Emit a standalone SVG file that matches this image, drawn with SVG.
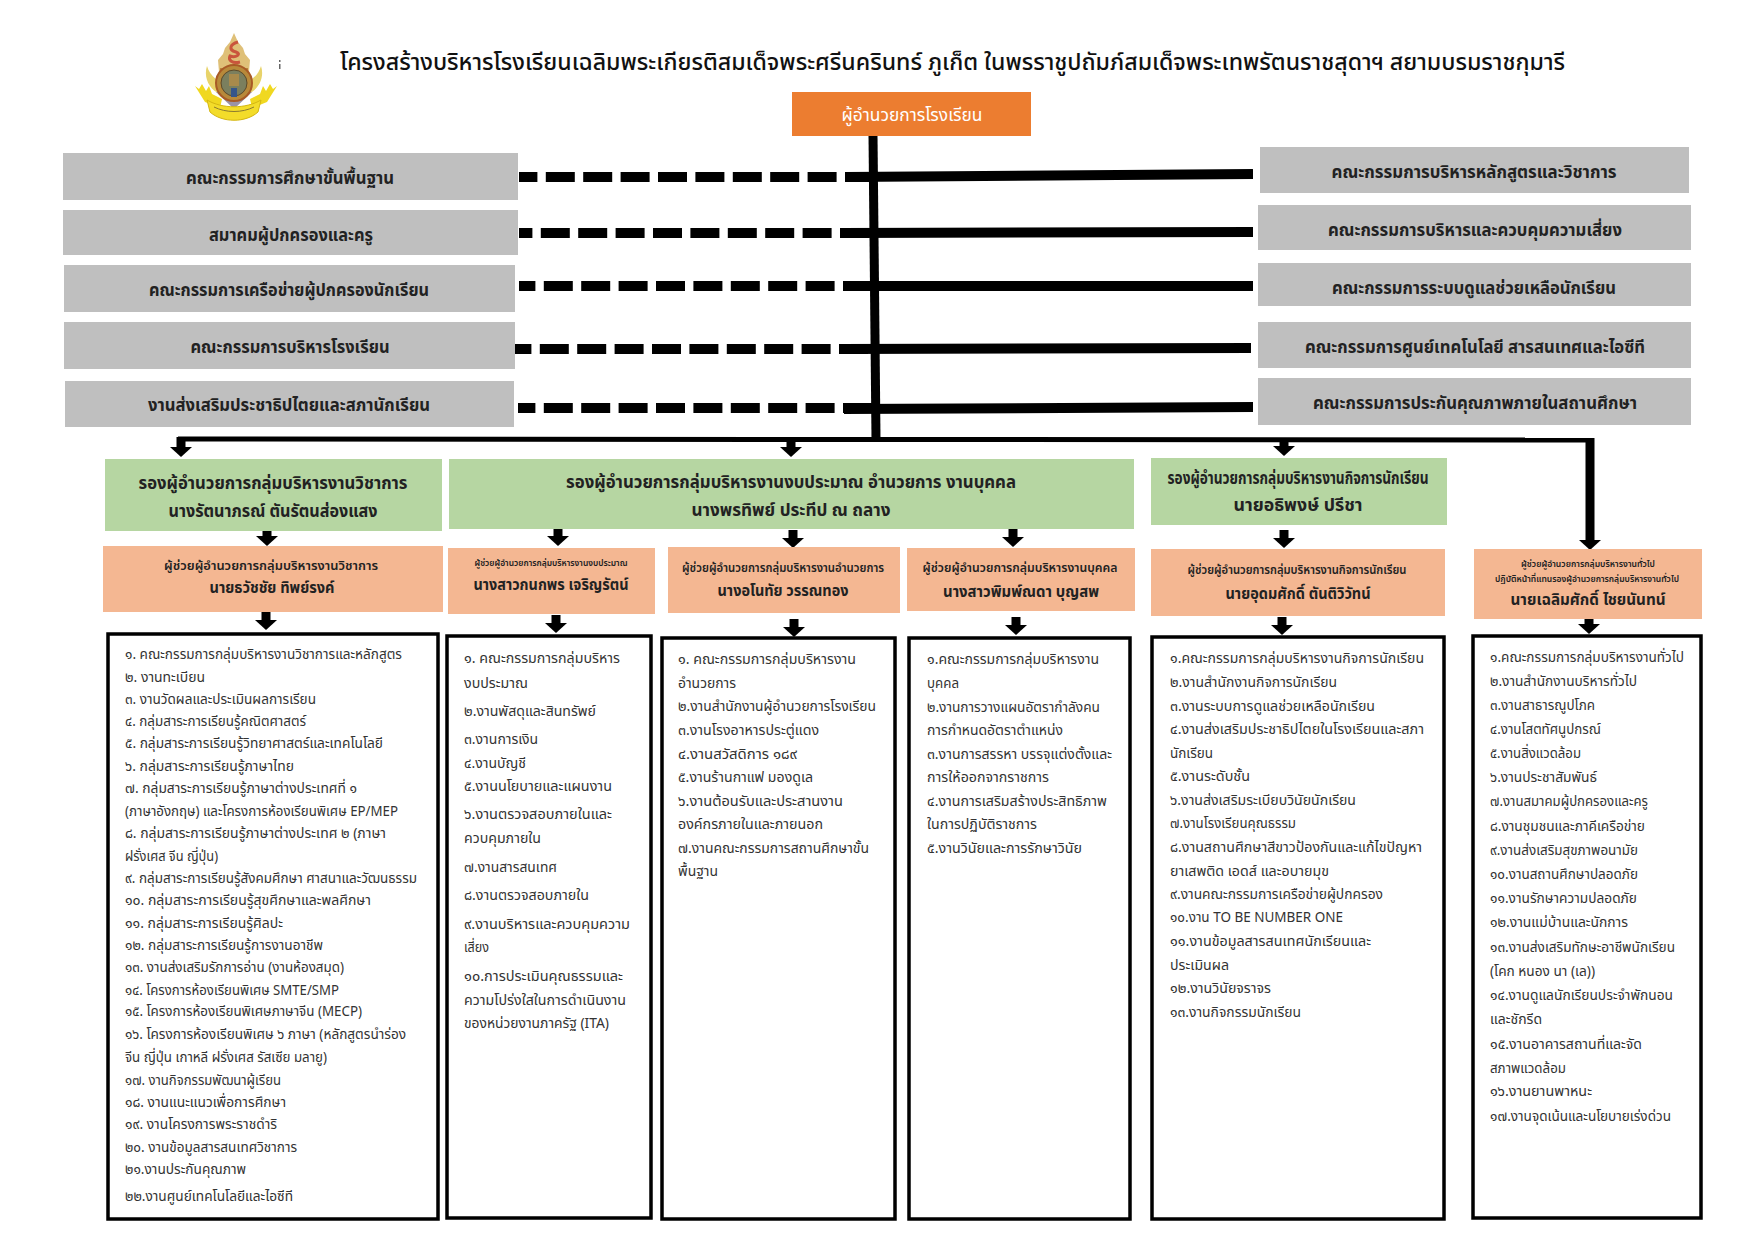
<svg xmlns="http://www.w3.org/2000/svg" width="1754" height="1241" viewBox="0 0 1754 1241">
<style>
text{font-family:"Noto Sans Thai","Noto Sans","DejaVu Sans",sans-serif;fill:#111}
.l{font-size:14px;fill:#333}
.c{text-anchor:middle}
.h{font-size:17px;font-weight:700;fill:#222}
.s{font-size:11px;fill:#222;font-weight:600}
.n{font-size:16px;font-weight:700;fill:#222}
.gray{fill:#bfbfbf}.green{fill:#b6d6a2}.or{fill:#f4b792}
.list{fill:#fff;stroke:#000;stroke-width:3.500}
.ar{stroke:#000;stroke-width:9;fill:none}
.bus{stroke:#000;fill:none}
.dash{stroke:#000;stroke-width:10;stroke-dasharray:29 8.4;fill:none}
.sol{stroke:#000;stroke-width:10;fill:none}
</style>
<defs><marker id="head" markerUnits="userSpaceOnUse" markerWidth="11" markerHeight="24" refX="0" refY="12" orient="auto"><path d="M0 1L10 12L0 23Z" fill="#000"/></marker></defs>
<rect width="1754" height="1241" fill="#fff"/>
<g id="logo">
<path d="M207 66C203 78 210 90 220 94H248C258 90 265 78 261 66C258 76 250 84 234 84C218 84 210 76 207 66Z" fill="#e8d36a"/>
<path d="M234 33L238 42L243 48L245 54L250 60L249 72H219L218 60L223 54L225 48L230 42Z" fill="#dfc078"/>
<path d="M238 42C230 44 228 50 236 52C242 54 236 58 230 56C228 60 232 64 240 62" fill="none" stroke="#c9553c" stroke-width="3"/>
<path d="M220 68H248V74H220Z" fill="#b8863c"/>
<path d="M216 92H252L234 109Z" fill="#9a93a8"/>
<circle cx="234" cy="83" r="18" fill="#b8893a" stroke="#a85a26" stroke-width="2"/>
<circle cx="234" cy="83" r="13" fill="#7b7f5e" stroke="#5c4a2a"/>
<path d="M229 74h10v12h-10z" fill="#a88a4c"/>
<path d="M231 88h6v9h-6z" fill="#35558a"/>
<path d="M195 86L199 89L202 84L206 91L209 86L212 94L222 99L220 108L205 102Z" fill="#f0d820"/>
<path d="M277 86L273 89L270 84L266 91L263 86L260 94L250 99L252 108L267 102Z" fill="#f0d820"/>
<path d="M207 100C222 109 246 109 261 100L258 112C246 123 222 123 210 112Z" fill="#f3dc2a" stroke="#d4b612"/>
<path d="M214 107C226 113 242 113 254 107" fill="none" stroke="#8a7a30" stroke-width="1"/>
<path d="M279 60h1.500v2h-1.500zM279 64h1.500v5h-1.500z" fill="#666"/>
</g>
<text id="title" x="340" y="70" font-size="23" textLength="1225" lengthAdjust="spacingAndGlyphs" style="font-size:23px;fill:#111;font-weight:500">โครงสร้างบริหารโรงเรียนเฉลิมพระเกียรติสมเด็จพระศรีนครินทร์ ภูเก็ต ในพรราชูปถัมภ์สมเด็จพระเทพรัตนราชสุดาฯ สยามบรมราชกุมารี</text>
<g id="connectors">
<path class="dash" d="M874 177H519"/>
<path class="dash" d="M869 233H519"/>
<path class="dash" d="M872 286H519"/>
<path class="dash" d="M868 349H515"/>
<path class="dash" d="M872 408H518"/>
<path class="sol" d="M846 177L1253 174"/>
<path class="sol" d="M842 233L1253 232"/>
<path class="sol" d="M843 286H1253"/>
<path class="sol" d="M841 349L1251 348"/>
<path class="sol" d="M844 409L1253 407"/>
<path class="bus" stroke-width="9" d="M873 135L876 438"/>
<path class="bus" stroke-width="5" d="M178 439L1590 440"/>
<line class="ar" x1="181" y1="437" x2="181" y2="447" marker-end="url(#head)"/>
<line class="ar" x1="791" y1="440" x2="791" y2="447" marker-end="url(#head)"/>
<line class="ar" x1="1284" y1="440" x2="1284" y2="446" marker-end="url(#head)"/>
<line class="ar" x1="1590" y1="438" x2="1590" y2="540" marker-end="url(#head)"/>
<line class="ar" x1="267" y1="528" x2="267" y2="536" marker-end="url(#head)"/>
<line class="ar" x1="558" y1="528" x2="558" y2="536" marker-end="url(#head)"/>
<line class="ar" x1="793" y1="530" x2="793" y2="538" marker-end="url(#head)"/>
<line class="ar" x1="1013" y1="529" x2="1013" y2="537" marker-end="url(#head)"/>
<line class="ar" x1="1284" y1="530" x2="1284" y2="538" marker-end="url(#head)"/>
<line class="ar" x1="266" y1="612" x2="266" y2="620" marker-end="url(#head)"/>
<line class="ar" x1="556" y1="615" x2="556" y2="623" marker-end="url(#head)"/>
<line class="ar" x1="794" y1="619" x2="794" y2="627" marker-end="url(#head)"/>
<line class="ar" x1="1016" y1="617" x2="1016" y2="625" marker-end="url(#head)"/>
<line class="ar" x1="1282" y1="617" x2="1282" y2="625" marker-end="url(#head)"/>
<line class="ar" x1="1589" y1="616" x2="1589" y2="624" marker-end="url(#head)"/>
</g>
<g id="director"><rect x="792" y="92" width="239" height="44" fill="#ec7d30"/><text x="912" y="121" textLength="141" lengthAdjust="spacingAndGlyphs" style="font-size:17px;fill:#fff" class="c">ผู้อำนวยการโรงเรียน</text></g>
<g id="left-1"><rect class="gray" x="63" y="153" width="455" height="47"/><text class="h c" x="290" y="184" textLength="208" lengthAdjust="spacingAndGlyphs">คณะกรรมการศึกษาขั้นพื้นฐาน</text></g>
<g id="left-2"><rect class="gray" x="63" y="210" width="455" height="45"/><text class="h c" x="291" y="241" textLength="164" lengthAdjust="spacingAndGlyphs">สมาคมผู้ปกครองและครู</text></g>
<g id="left-3"><rect class="gray" x="64" y="265" width="451" height="47"/><text class="h c" x="289" y="296" textLength="280" lengthAdjust="spacingAndGlyphs">คณะกรรมการเครือข่ายผู้ปกครองนักเรียน</text></g>
<g id="left-4"><rect class="gray" x="64" y="322" width="451" height="47"/><text class="h c" x="290" y="353" textLength="199" lengthAdjust="spacingAndGlyphs">คณะกรรมการบริหารโรงเรียน</text></g>
<g id="left-5"><rect class="gray" x="65" y="381" width="449" height="46"/><text class="h c" x="289" y="411" textLength="282" lengthAdjust="spacingAndGlyphs">งานส่งเสริมประชาธิปไตยและสภานักเรียน</text></g>
<g id="right-1"><rect class="gray" x="1260" y="147" width="429" height="46"/><text class="h c" x="1474" y="178" textLength="285" lengthAdjust="spacingAndGlyphs">คณะกรรมการบริหารหลักสูตรและวิชาการ</text></g>
<g id="right-2"><rect class="gray" x="1258" y="205" width="433" height="45"/><text class="h c" x="1475" y="236" textLength="294" lengthAdjust="spacingAndGlyphs">คณะกรรมการบริหารและควบคุมความเสี่ยง</text></g>
<g id="right-3"><rect class="gray" x="1258" y="263" width="433" height="43"/><text class="h c" x="1474" y="294" textLength="284" lengthAdjust="spacingAndGlyphs">คณะกรรมการระบบดูแลช่วยเหลือนักเรียน</text></g>
<g id="right-4"><rect class="gray" x="1258" y="322" width="433" height="46"/><text class="h c" x="1475" y="353" textLength="340" lengthAdjust="spacingAndGlyphs">คณะกรรมการศูนย์เทคโนโลยี สารสนเทศและไอซีที</text></g>
<g id="right-5"><rect class="gray" x="1258" y="378" width="433" height="47"/><text class="h c" x="1475" y="409" textLength="324" lengthAdjust="spacingAndGlyphs">คณะกรรมการประกันคุณภาพภายในสถานศึกษา</text></g>
<g id="deputy-academic"><rect class="green" x="105" y="459" width="337" height="72"/><text class="h c" x="273" y="489" textLength="269" lengthAdjust="spacingAndGlyphs">รองผู้อำนวยการกลุ่มบริหารงานวิชาการ</text><text class="h c" x="273" y="517" textLength="209" lengthAdjust="spacingAndGlyphs">นางรัตนาภรณ์ ตันรัตนส่องแสง</text></g>
<g id="deputy-budget"><rect class="green" x="449" y="459" width="685" height="70"/><text class="h c" x="791" y="488" textLength="450" lengthAdjust="spacingAndGlyphs">รองผู้อำนวยการกลุ่มบริหารงานงบประมาณ อำนวยการ งานบุคคล</text><text class="h c" x="791" y="516" textLength="199" lengthAdjust="spacingAndGlyphs">นางพรทิพย์ ประทีป ณ ถลาง</text></g>
<g id="deputy-student"><rect class="green" x="1151" y="458" width="296" height="67"/><text class="h c" x="1298" y="484" textLength="261" lengthAdjust="spacingAndGlyphs">รองผู้อำนวยการกลุ่มบริหารงานกิจการนักเรียน</text><text class="h c" x="1298" y="511" textLength="129" lengthAdjust="spacingAndGlyphs">นายอธิพงษ์  ปรีชา</text></g>
<g id="asst-academic"><rect class="or" x="103" y="546" width="340" height="66"/><text class="s c" x="271" y="570" style="font-size:13px" textLength="214" lengthAdjust="spacingAndGlyphs">ผู้ช่วยผู้อำนวยการกลุ่มบริหารงานวิชาการ</text><text class="n c" x="272" y="593" textLength="125" lengthAdjust="spacingAndGlyphs">นายธวัชชัย ทิพย์รงค์</text></g>
<g id="asst-budget"><rect class="or" x="448" y="548" width="207" height="66"/><text class="s c" x="551" y="566" style="font-size:9px" textLength="153" lengthAdjust="spacingAndGlyphs">ผู้ช่วยผู้อำนวยการกลุ่มบริหารงานงบประมาณ</text><text class="n c" x="551" y="590" textLength="155" lengthAdjust="spacingAndGlyphs">นางสาวกนกพร เจริญรัตน์</text></g>
<g id="asst-admin"><rect class="or" x="668" y="547" width="232" height="66"/><text class="s c" x="783" y="572" style="font-size:12px" textLength="202" lengthAdjust="spacingAndGlyphs">ผู้ช่วยผู้อำนวยการกลุ่มบริหารงานอำนวยการ</text><text class="n c" x="783" y="596" textLength="131" lengthAdjust="spacingAndGlyphs">นางอโนทัย วรรณทอง</text></g>
<g id="asst-personnel"><rect class="or" x="907" y="548" width="228" height="63"/><text class="s c" x="1020" y="572" style="font-size:12px" textLength="195" lengthAdjust="spacingAndGlyphs">ผู้ช่วยผู้อำนวยการกลุ่มบริหารงานบุคคล</text><text class="n c" x="1021" y="597" textLength="156" lengthAdjust="spacingAndGlyphs">นางสาวพิมพ์ณดา  บุญสพ</text></g>
<g id="asst-student"><rect class="or" x="1151" y="549" width="294" height="67"/><text class="s c" x="1297" y="574" style="font-size:12px" textLength="219" lengthAdjust="spacingAndGlyphs">ผู้ช่วยผู้อำนวยการกลุ่มบริหารงานกิจการนักเรียน</text><text class="n c" x="1298" y="599" textLength="145" lengthAdjust="spacingAndGlyphs">นายอุดมศักดิ์ ตันติวิวัทน์</text></g>
<g id="asst-general"><rect class="or" x="1474" y="549" width="228" height="70"/><text class="s c" x="1588" y="567" style="font-size:9px" textLength="134" lengthAdjust="spacingAndGlyphs">ผู้ช่วยผู้อำนวยการกลุ่มบริหารงานทั่วไป</text><text class="s c" x="1587" y="582" style="font-size:9px" textLength="184" lengthAdjust="spacingAndGlyphs">ปฏิบัติหน้าที่แทนรองผู้อำนวยการกลุ่มบริหารงานทั่วไป</text><text class="n c" x="1588" y="605" textLength="155" lengthAdjust="spacingAndGlyphs">นายเฉลิมศักดิ์  ไชยนันทน์</text></g>
<g id="list-academic"><rect class="list" x="108" y="634" width="330" height="585"/>
<g transform="translate(0,-1)">
<text class="l" x="125" y="660" textLength="277" lengthAdjust="spacingAndGlyphs">๑. คณะกรรมการกลุ่มบริหารงานวิชาการและหลักสูตร</text>
<text class="l" x="125" y="683" textLength="80" lengthAdjust="spacingAndGlyphs">๒. งานทะเบียน</text>
<text class="l" x="125" y="705" textLength="191" lengthAdjust="spacingAndGlyphs">๓. งานวัดผลและประเมินผลการเรียน</text>
<text class="l" x="125" y="727" textLength="181" lengthAdjust="spacingAndGlyphs">๔. กลุ่มสาระการเรียนรู้คณิตศาสตร์</text>
<text class="l" x="125" y="749" textLength="258" lengthAdjust="spacingAndGlyphs">๕. กลุ่มสาระการเรียนรู้วิทยาศาสตร์และเทคโนโลยี</text>
<text class="l" x="125" y="772" textLength="169" lengthAdjust="spacingAndGlyphs">๖. กลุ่มสาระการเรียนรู้ภาษาไทย</text>
<text class="l" x="125" y="794" textLength="232" lengthAdjust="spacingAndGlyphs">๗. กลุ่มสาระการเรียนรู้ภาษาต่างประเทศที่ ๑</text>
<text class="l" x="125" y="817" textLength="273" lengthAdjust="spacingAndGlyphs">(ภาษาอังกฤษ) และโครงการห้องเรียนพิเศษ EP/MEP</text>
<text class="l" x="125" y="839" textLength="261" lengthAdjust="spacingAndGlyphs">๘. กลุ่มสาระการเรียนรู้ภาษาต่างประเทศ ๒ (ภาษา</text>
<text class="l" x="125" y="862" textLength="93" lengthAdjust="spacingAndGlyphs">ฝรั่งเศส จีน ญี่ปุ่น)</text>
<text class="l" x="125" y="884" textLength="292" lengthAdjust="spacingAndGlyphs">๙. กลุ่มสาระการเรียนรู้สังคมศึกษา ศาสนาและวัฒนธรรม</text>
<text class="l" x="125" y="906" textLength="246" lengthAdjust="spacingAndGlyphs">๑๐.  กลุ่มสาระการเรียนรู้สุขศึกษาและพลศึกษา</text>
<text class="l" x="125" y="929" textLength="158" lengthAdjust="spacingAndGlyphs">๑๑. กลุ่มสาระการเรียนรู้ศิลปะ</text>
<text class="l" x="125" y="951" textLength="198" lengthAdjust="spacingAndGlyphs">๑๒. กลุ่มสาระการเรียนรู้การงานอาชีพ</text>
<text class="l" x="125" y="973" textLength="219" lengthAdjust="spacingAndGlyphs">๑๓. งานส่งเสริมรักการอ่าน (งานห้องสมุด)</text>
<text class="l" x="125" y="996" textLength="214" lengthAdjust="spacingAndGlyphs">๑๔. โครงการห้องเรียนพิเศษ SMTE/SMP</text>
<text class="l" x="125" y="1017" textLength="237" lengthAdjust="spacingAndGlyphs">๑๕. โครงการห้องเรียนพิเศษภาษาจีน (MECP)</text>
<text class="l" x="125" y="1040" textLength="281" lengthAdjust="spacingAndGlyphs">๑๖. โครงการห้องเรียนพิเศษ ๖ ภาษา (หลักสูตรนำร่อง</text>
<text class="l" x="125" y="1063" textLength="202" lengthAdjust="spacingAndGlyphs">จีน ญี่ปุ่น เกาหลี ฝรั่งเศส รัสเซีย มลายู)</text>
<text class="l" x="125" y="1086" textLength="156" lengthAdjust="spacingAndGlyphs">๑๗. งานกิจกรรมพัฒนาผู้เรียน</text>
<text class="l" x="125" y="1108" textLength="161" lengthAdjust="spacingAndGlyphs">๑๘. งานแนะแนวเพื่อการศึกษา</text>
<text class="l" x="125" y="1130" textLength="152" lengthAdjust="spacingAndGlyphs">๑๙. งานโครงการพระราชดำริ</text>
<text class="l" x="125" y="1153" textLength="172" lengthAdjust="spacingAndGlyphs">๒๐. งานข้อมูลสารสนเทศวิชาการ</text>
<text class="l" x="125" y="1175" textLength="121" lengthAdjust="spacingAndGlyphs">๒๑.งานประกันคุณภาพ</text>
<text class="l" x="125" y="1202" textLength="168" lengthAdjust="spacingAndGlyphs">๒๒.งานศูนย์เทคโนโลยีและไอซีที</text>
</g></g>
<g id="list-budget"><rect class="list" x="447" y="636" width="204" height="582"/>
<text class="l" x="464" y="663" textLength="156" lengthAdjust="spacingAndGlyphs">๑. คณะกรรมการกลุ่มบริหาร</text>
<text class="l" x="464" y="688" textLength="64" lengthAdjust="spacingAndGlyphs">งบประมาณ</text>
<text class="l" x="464" y="716" textLength="132" lengthAdjust="spacingAndGlyphs">๒.งานพัสดุและสินทรัพย์</text>
<text class="l" x="464" y="744" textLength="74" lengthAdjust="spacingAndGlyphs">๓.งานการเงิน</text>
<text class="l" x="464" y="768" textLength="62" lengthAdjust="spacingAndGlyphs">๔.งานบัญชี</text>
<text class="l" x="464" y="791" textLength="148" lengthAdjust="spacingAndGlyphs">๕.งานนโยบายและแผนงาน</text>
<text class="l" x="464" y="819" textLength="148" lengthAdjust="spacingAndGlyphs">๖.งานตรวจสอบภายในและ</text>
<text class="l" x="464" y="843" textLength="77" lengthAdjust="spacingAndGlyphs">ควบคุมภายใน</text>
<text class="l" x="464" y="872" textLength="93" lengthAdjust="spacingAndGlyphs">๗.งานสารสนเทศ</text>
<text class="l" x="464" y="900" textLength="125" lengthAdjust="spacingAndGlyphs">๘.งานตรวจสอบภายใน</text>
<text class="l" x="464" y="929" textLength="166" lengthAdjust="spacingAndGlyphs">๙.งานบริหารและควบคุมความ</text>
<text class="l" x="464" y="952" textLength="25" lengthAdjust="spacingAndGlyphs">เสี่ยง</text>
<text class="l" x="464" y="981" textLength="159" lengthAdjust="spacingAndGlyphs">๑๐.การประเมินคุณธรรมและ</text>
<text class="l" x="464" y="1005" textLength="162" lengthAdjust="spacingAndGlyphs">ความโปร่งใสในการดำเนินงาน</text>
<text class="l" x="464" y="1028" textLength="145" lengthAdjust="spacingAndGlyphs">ของหน่วยงานภาครัฐ (ITA)</text>
</g>
<g id="list-admin"><rect class="list" x="662" y="638" width="233" height="581"/>
<text class="l" x="678" y="664" textLength="178" lengthAdjust="spacingAndGlyphs">๑. คณะกรรมการกลุ่มบริหารงาน</text>
<text class="l" x="678" y="688" textLength="58" lengthAdjust="spacingAndGlyphs">อำนวยการ</text>
<text class="l" x="678" y="711" textLength="198" lengthAdjust="spacingAndGlyphs">๒.งานสำนักงานผู้อำนวยการโรงเรียน</text>
<text class="l" x="678" y="735" textLength="141" lengthAdjust="spacingAndGlyphs">๓.งานโรงอาหารประตู่แดง</text>
<text class="l" x="678" y="759" textLength="119" lengthAdjust="spacingAndGlyphs">๔.งานสวัสดิการ ๑๘๙</text>
<text class="l" x="678" y="782" textLength="135" lengthAdjust="spacingAndGlyphs">๕.งานร้านกาแฟ มองดูเล</text>
<text class="l" x="678" y="806" textLength="165" lengthAdjust="spacingAndGlyphs">๖.งานต้อนรับและประสานงาน</text>
<text class="l" x="678" y="829" textLength="145" lengthAdjust="spacingAndGlyphs">องค์กรภายในและภายนอก</text>
<text class="l" x="678" y="853" textLength="191" lengthAdjust="spacingAndGlyphs">๗.งานคณะกรรมการสถานศึกษาขั้น</text>
<text class="l" x="678" y="876" textLength="40" lengthAdjust="spacingAndGlyphs">พื้นฐาน</text>
</g>
<g id="list-personnel"><rect class="list" x="909" y="638" width="221" height="581"/>
<text class="l" x="927" y="664" textLength="172" lengthAdjust="spacingAndGlyphs">๑.คณะกรรมการกลุ่มบริหารงาน</text>
<text class="l" x="927" y="688" textLength="32" lengthAdjust="spacingAndGlyphs">บุคคล</text>
<text class="l" x="927" y="712" textLength="173" lengthAdjust="spacingAndGlyphs">๒.งานการวางแผนอัตรากำลังคน</text>
<text class="l" x="927" y="735" textLength="136" lengthAdjust="spacingAndGlyphs">การกำหนดอัตราตำแหน่ง</text>
<text class="l" x="927" y="759" textLength="185" lengthAdjust="spacingAndGlyphs">๓.งานการสรรหา บรรจุแต่งตั้งและ</text>
<text class="l" x="927" y="782" textLength="122" lengthAdjust="spacingAndGlyphs">การให้ออกจากราชการ</text>
<text class="l" x="927" y="806" textLength="180" lengthAdjust="spacingAndGlyphs">๔.งานการเสริมสร้างประสิทธิภาพ</text>
<text class="l" x="927" y="829" textLength="110" lengthAdjust="spacingAndGlyphs">ในการปฏิบัติราชการ</text>
<text class="l" x="927" y="853" textLength="155" lengthAdjust="spacingAndGlyphs">๕.งานวินัยและการรักษาวินัย</text>
</g>
<g id="list-student"><rect class="list" x="1152" y="637" width="292" height="582"/>
<text class="l" x="1170" y="663" textLength="254" lengthAdjust="spacingAndGlyphs">๑.คณะกรรมการกลุ่มบริหารงานกิจการนักเรียน</text>
<text class="l" x="1170" y="687" textLength="167" lengthAdjust="spacingAndGlyphs">๒.งานสำนักงานกิจการนักเรียน</text>
<text class="l" x="1170" y="711" textLength="205" lengthAdjust="spacingAndGlyphs">๓.งานระบบการดูแลช่วยเหลือนักเรียน</text>
<text class="l" x="1170" y="734" textLength="254" lengthAdjust="spacingAndGlyphs">๔.งานส่งเสริมประชาธิปไตยในโรงเรียนและสภา</text>
<text class="l" x="1170" y="758" textLength="43" lengthAdjust="spacingAndGlyphs">นักเรียน</text>
<text class="l" x="1170" y="781" textLength="80" lengthAdjust="spacingAndGlyphs">๕.งานระดับชั้น</text>
<text class="l" x="1170" y="805" textLength="186" lengthAdjust="spacingAndGlyphs">๖.งานส่งเสริมระเบียบวินัยนักเรียน</text>
<text class="l" x="1170" y="828" textLength="126" lengthAdjust="spacingAndGlyphs">๗.งานโรงเรียนคุณธรรม</text>
<text class="l" x="1170" y="852" textLength="252" lengthAdjust="spacingAndGlyphs">๘.งานสถานศึกษาสีขาวป้องกันและแก้ไขปัญหา</text>
<text class="l" x="1170" y="876" textLength="159" lengthAdjust="spacingAndGlyphs">ยาเสพติด เอดส์ และอบายมุข</text>
<text class="l" x="1170" y="899" textLength="213" lengthAdjust="spacingAndGlyphs">๙.งานคณะกรรมการเครือข่ายผู้ปกครอง</text>
<text class="l" x="1170" y="922" textLength="173" lengthAdjust="spacingAndGlyphs">๑๐.งาน TO BE NUMBER ONE</text>
<text class="l" x="1170" y="946" textLength="201" lengthAdjust="spacingAndGlyphs">๑๑.งานข้อมูลสารสนเทศนักเรียนและ</text>
<text class="l" x="1170" y="970" textLength="59" lengthAdjust="spacingAndGlyphs">ประเมินผล</text>
<text class="l" x="1170" y="993" textLength="101" lengthAdjust="spacingAndGlyphs">๑๒.งานวินัยจราจร</text>
<text class="l" x="1170" y="1017" textLength="131" lengthAdjust="spacingAndGlyphs">๑๓.งานกิจกรรมนักเรียน</text>
</g>
<g id="list-general"><rect class="list" x="1473" y="636" width="228" height="582"/>
<g transform="translate(0,-1.5)">
<text class="l" x="1490" y="663" textLength="194" lengthAdjust="spacingAndGlyphs">๑.คณะกรรมการกลุ่มบริหารงานทั่วไป</text>
<text class="l" x="1490" y="687" textLength="147" lengthAdjust="spacingAndGlyphs">๒.งานสำนักงานบริหารทั่วไป</text>
<text class="l" x="1490" y="711" textLength="105" lengthAdjust="spacingAndGlyphs">๓.งานสาธารณูปโภค</text>
<text class="l" x="1490" y="735" textLength="111" lengthAdjust="spacingAndGlyphs">๔.งานโสตทัศนูปกรณ์</text>
<text class="l" x="1490" y="759" textLength="91" lengthAdjust="spacingAndGlyphs">๕.งานสิ่งแวดล้อม</text>
<text class="l" x="1490" y="783" textLength="107" lengthAdjust="spacingAndGlyphs">๖.งานประชาสัมพันธ์</text>
<text class="l" x="1490" y="807" textLength="158" lengthAdjust="spacingAndGlyphs">๗.งานสมาคมผู้ปกครองและครู</text>
<text class="l" x="1490" y="832" textLength="155" lengthAdjust="spacingAndGlyphs">๘.งานชุมชนและภาคีเครือข่าย</text>
<text class="l" x="1490" y="856" textLength="148" lengthAdjust="spacingAndGlyphs">๙.งานส่งเสริมสุขภาพอนามัย</text>
<text class="l" x="1490" y="880" textLength="148" lengthAdjust="spacingAndGlyphs">๑๐.งานสถานศึกษาปลอดภัย</text>
<text class="l" x="1490" y="904" textLength="147" lengthAdjust="spacingAndGlyphs">๑๑.งานรักษาความปลอดภัย</text>
<text class="l" x="1490" y="928" textLength="138" lengthAdjust="spacingAndGlyphs">๑๒.งานแม่บ้านและนักการ</text>
<text class="l" x="1490" y="953" textLength="185" lengthAdjust="spacingAndGlyphs">๑๓.งานส่งเสริมทักษะอาชีพนักเรียน</text>
<text class="l" x="1490" y="977" textLength="105" lengthAdjust="spacingAndGlyphs">(โคก หนอง นา (เล))</text>
<text class="l" x="1490" y="1001" textLength="183" lengthAdjust="spacingAndGlyphs">๑๔.งานดูแลนักเรียนประจำพักนอน</text>
<text class="l" x="1490" y="1025" textLength="52" lengthAdjust="spacingAndGlyphs">และชักรีด</text>
<text class="l" x="1490" y="1050" textLength="152" lengthAdjust="spacingAndGlyphs">๑๕.งานอาคารสถานที่และจัด</text>
<text class="l" x="1490" y="1074" textLength="76" lengthAdjust="spacingAndGlyphs">สภาพแวดล้อม</text>
<text class="l" x="1490" y="1097" textLength="102" lengthAdjust="spacingAndGlyphs">๑๖.งานยานพาหนะ</text>
<text class="l" x="1490" y="1122" textLength="181" lengthAdjust="spacingAndGlyphs">๑๗.งานจุดเน้นและนโยบายเร่งด่วน</text>
</g></g>
</svg>
